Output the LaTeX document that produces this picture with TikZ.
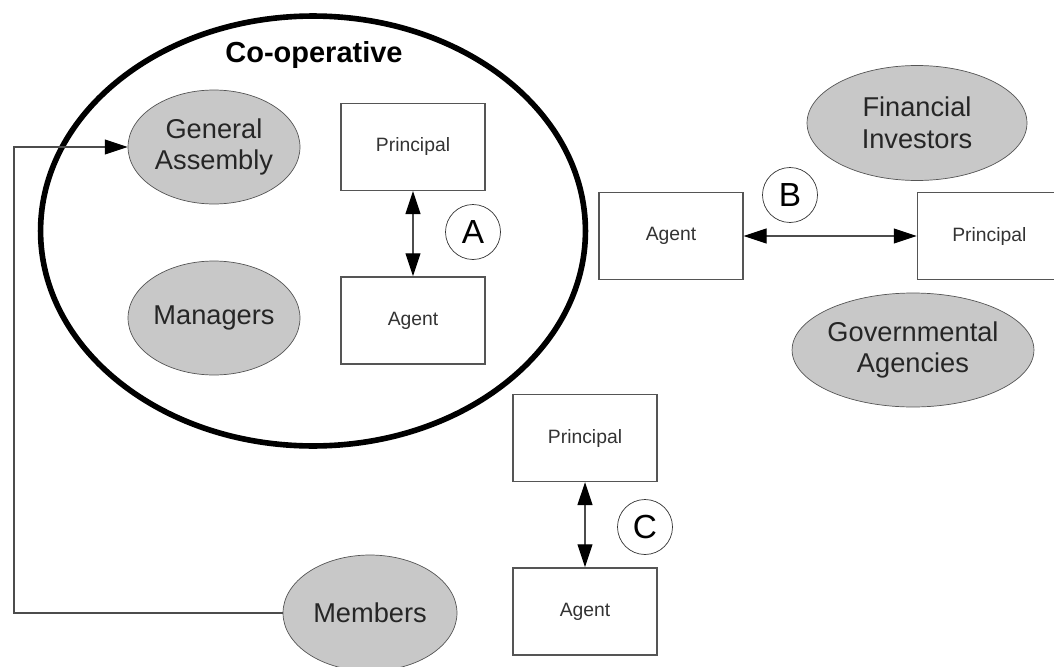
\documentclass[tikz,border=0pt]{standalone}
\usepackage{fontspec}
\setmainfont{Liberation Sans}
\usetikzlibrary{arrows.meta,positioning,shapes}
\definecolor{actorfill}{RGB}{200,200,200}
\definecolor{edgegray}{RGB}{85,85,85}

\begin{document}
\begin{tikzpicture}[
    x=0.02cm, y=-0.02cm,
    actor/.style={draw=edgegray, fill=actorfill, ellipse, inner sep=0pt, minimum width=3.44cm, minimum height=2.28cm, align=center, font=\fontsize{15.5}{18}\selectfont, text=black!85},
    role/.style={draw=edgegray, line width=0.8pt, fill=white, minimum width=2.88cm, minimum height=1.74cm, font=\fontsize{11}{13}\selectfont, text=black!80},
    tag/.style={draw=black!80, circle, minimum size=1.1cm, inner sep=0pt, font=\fontsize{19}{21}\selectfont},
    link/.style={draw=black!70, line width=0.6pt, {Triangle[length=13pt,width=8.5pt,color=black]}-{Triangle[length=13pt,width=8.5pt,color=black]}},
    node distance=1.7cm
]
    \useasboundingbox (0,0) rectangle (1054,666);

    % Co-operative
    \node[draw, ellipse, line width=3.2pt, minimum width=10.9cm, minimum height=8.6cm] (coop) at (313,231) {};
    \node[anchor=base, font=\bfseries\fontsize{16.5}{19}\selectfont] (cooplabel) at (314,62) {Co-operative};
    \node[actor] (ga) at (214,147) {General\\Assembly};
    \node[actor] (managers) at (214,318) {Managers};
    \node[role] (prinA) at (413,147) {Principal};
    \node[role, below=of prinA] (agentA) {Agent};
    \node[tag] (tagA) at (473,232) {A};

    % Outside stakeholders
    \node[actor, minimum width=4.4cm, minimum height=2.3cm] (investors) at (917,123) {Financial\\Investors};
    \node[actor, minimum width=4.5cm, minimum height=2.28cm] (agencies) at (913,350) {Governmental\\Agencies};
    \node[role] (agentB) at (671,236) {Agent};
    \node[role, right=3.46cm of agentB] (prinB) {Principal};
    \node[tag] (tagB) at (790,195) {B};

    % Members
    \node[actor, minimum width=3.48cm, minimum height=2.32cm] (members) at (370,613) {Members};
    \node[role] (prinC) at (585,438) {Principal};
    \node[role, below=of prinC] (agentC) {Agent};
    \node[tag] (tagC) at (645,527) {C};

    % Relations
    \draw[link] (prinA) -- (agentA);
    \draw[link] (agentB) -- (prinB);
    \draw[link] (prinC) -- (agentC);
    \coordinate (turn) at (14,613);
    \draw[draw=black!70, line width=0.6pt, -{Triangle[length=13pt,width=8.5pt,color=black]}]
        (members.west) -- (turn) |- (ga.west);
\end{tikzpicture}
\end{document}
